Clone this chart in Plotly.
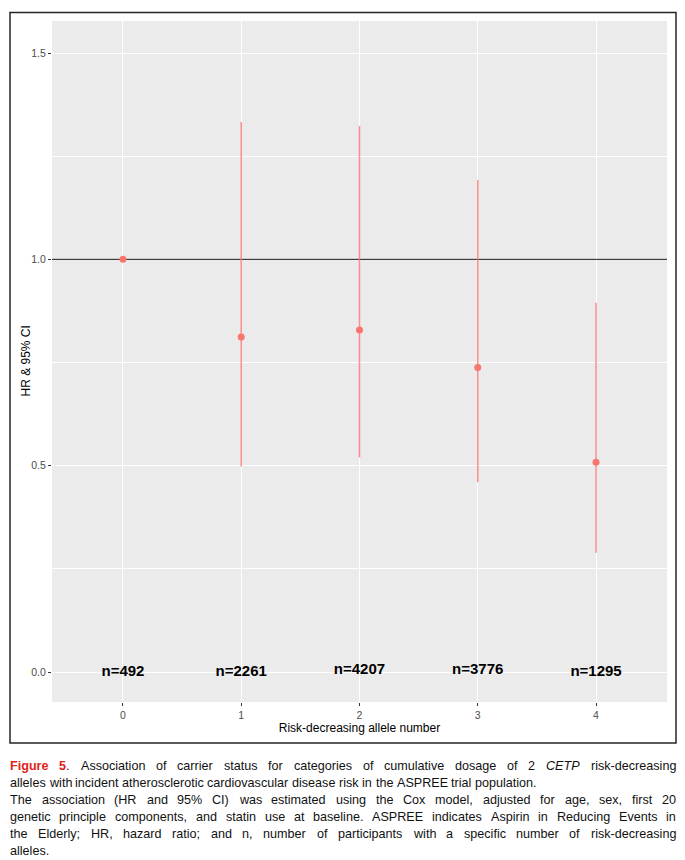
import plotly.graph_objects as go

# ---------------- data ----------------
allele_number = [0, 1, 2, 3, 4]
hr = [1.00, 0.812, 0.829, 0.738, 0.508]
ci_lower = [1.00, 0.498, 0.520, 0.460, 0.289]
ci_upper = [1.00, 1.333, 1.323, 1.192, 0.895]
n_labels = ["n=492", "n=2261", "n=4207", "n=3776", "n=1295"]
n_label_y = [0.0, 0.0, 0.004, 0.004, 0.0]
reference_hr = 1.0
x_range = [-0.6, 4.6]
y_range = [-0.0727, 1.5776]
x_tick_vals = [0, 1, 2, 3, 4]
x_tick_text = ["0", "1", "2", "3", "4"]
y_tick_vals = [0.0, 0.5, 1.0, 1.5]
y_tick_text = ["0.0", "0.5", "1.0", "1.5"]
y_minor_vals = [0.25, 0.75, 1.25]
x_title = "Risk-decreasing allele number"
y_title = "HR & 95% CI"

caption_lines = [
    "Figure 5. Association of carrier status for categories of cumulative dosage of 2 CETP risk-decreasing",
    "alleles with incident atherosclerotic cardiovascular disease risk in the ASPREE trial population.",
    "The association (HR and 95% CI) was estimated using the Cox model, adjusted for age, sex, first 20",
    "genetic principle components, and statin use at baseline. ASPREE indicates Aspirin in Reducing Events in",
    "the Elderly; HR, hazard ratio; and n, number of participants with a specific number of risk-decreasing",
    "alleles.",
]
caption_justified = [True, False, True, True, True, False]

# ---------------- layout geometry ----------------
W, H = 685, 860
ML, MR, MT, MB = 52, 18, 21, 158
PW, PH = W - ML - MR, H - MT - MB


def px(xpix):
    return (xpix - ML) / PW


def py(ypix):
    return (H - MB - ypix) / PH


FONT = "Liberation Sans, Arial, Helvetica, sans-serif"
POINT = "#F8766D"

# Arial / Liberation Sans advance widths (1/1000 em)
REG = {" ": 278, "%": 889, "&": 667, "(": 333, ")": 333, ",": 278, "-": 333, ".": 278, ";": 278, ":": 278,
       "A": 667, "B": 667, "C": 722, "D": 722, "E": 667, "F": 611, "G": 778, "H": 722, "I": 278, "J": 500,
       "K": 667, "L": 556, "M": 833, "N": 722, "O": 778, "P": 667, "Q": 778, "R": 722, "S": 667, "T": 611,
       "U": 722, "V": 667, "W": 944, "X": 667, "Y": 667, "Z": 611,
       "a": 556, "b": 556, "c": 500, "d": 556, "e": 556, "f": 278, "g": 556, "h": 556, "i": 222, "j": 222,
       "k": 500, "l": 222, "m": 833, "n": 556, "o": 556, "p": 556, "q": 556, "r": 333, "s": 500, "t": 278,
       "u": 556, "v": 500, "w": 722, "x": 500, "y": 500, "z": 500}
for d in "0123456789":
    REG[d] = 556
BOLD = {"F": 611, "i": 278, "g": 611, "u": 611, "r": 389, "e": 556, "5": 556, " ": 278}

CAP_SIZE = 12.6
RED = "#E2231A"


def run_width(text, bold=False):
    tab = BOLD if bold else REG
    return sum(tab.get(ch, 556) for ch in text) * CAP_SIZE / 1000.0


def render_word(li, word):
    """returns (html, width)"""
    if li == 0 and word == "Figure":
        return f"<b><span style='color:{RED}'>Figure</span></b>", run_width("Figure", True)
    if li == 0 and word == "5.":
        return (f"<b><span style='color:{RED}'>5</span></b>.",
                run_width("5", True) + run_width("."))
    if word == "CETP":
        return "<i>CETP</i>", run_width("CETP")
    return word, run_width(word)


fig = go.Figure()

# reference line at HR = 1 (drawn first so points sit on top)
fig.add_trace(go.Scatter(
    x=x_range, y=[reference_hr, reference_hr], mode="lines",
    line=dict(color="#1a1a1a", width=1), hoverinfo="skip", showlegend=False,
))

# CI bars + points
fig.add_trace(go.Scatter(
    x=allele_number, y=hr, mode="markers",
    marker=dict(color=POINT, size=7),
    error_y=dict(type="data", symmetric=False,
                 array=[u - h for u, h in zip(ci_upper, hr)],
                 arrayminus=[h - l for h, l in zip(hr, ci_lower)],
                 color="rgba(248,118,109,0.8)", thickness=1.5, width=0),
    hoverinfo="skip", showlegend=False,
))

# n labels
fig.add_trace(go.Scatter(
    x=allele_number, y=n_label_y, mode="text", text=n_labels,
    textposition="middle center",
    textfont=dict(family=FONT, size=15, color="black", weight="bold"),
    hoverinfo="skip", showlegend=False,
))

shapes = [
    dict(type="rect", xref="paper", yref="paper", x0=px(10), x1=px(676), y0=py(743), y1=py(12.5),
         line=dict(color="#262626", width=1.5), fillcolor="rgba(0,0,0,0)", layer="above"),
]

annotations = [
    dict(text=y_title, x=px(25), y=py(361.5), xref="paper", yref="paper", textangle=-90,
         xanchor="center", yanchor="middle", showarrow=False, borderpad=0, borderwidth=0,
         font=dict(family=FONT, size=12, color="black")),
]
line_y = [766, 783, 800, 817, 834, 851]
LEFT, RIGHT = 10, 676
for li, line in enumerate(caption_lines):
    words = line.split(" ")
    rendered = [render_word(li, w) for w in words]
    total = sum(r[1] for r in rendered)
    if caption_justified[li] and len(words) > 1:
        gap = (RIGHT - LEFT - total) / (len(words) - 1)
    else:
        gap = run_width(" ")
    xcur = LEFT
    for html, wdt in rendered:
        annotations.append(dict(
            text=html, x=px(xcur), y=py(line_y[li]), xref="paper", yref="paper",
            xanchor="left", yanchor="middle", showarrow=False, borderpad=0, borderwidth=0,
            font=dict(family=FONT, size=CAP_SIZE, color="#111111"),
        ))
        xcur += wdt + gap

fig.update_layout(
    width=W, height=H,
    margin=dict(l=ML, r=MR, t=MT, b=MB, pad=0),
    paper_bgcolor="white", plot_bgcolor="#EBEBEB",
    font=dict(family=FONT),
    showlegend=False,
    shapes=shapes,
    annotations=annotations,
    xaxis=dict(range=x_range, tickvals=x_tick_vals, ticktext=x_tick_text,
               showgrid=True, gridcolor="white", gridwidth=1.1, zeroline=False,
               ticks="outside", ticklen=3, tickcolor="#333333", tickwidth=1,
               tickfont=dict(family=FONT, size=10.5, color="#4D4D4D"),
               title=dict(text=x_title, font=dict(family=FONT, size=12, color="black"), standoff=2),
               showline=False, fixedrange=True),
    yaxis=dict(range=y_range, tickvals=y_tick_vals, ticktext=y_tick_text,
               showgrid=True, gridcolor="white", gridwidth=1.1, zeroline=False,
               minor=dict(tickvals=y_minor_vals, showgrid=True, gridcolor="white", gridwidth=0.5, ticks=""),
               ticks="outside", ticklen=3, tickcolor="#333333", tickwidth=1,
               tickfont=dict(family=FONT, size=10.5, color="#4D4D4D"),
               showline=False, fixedrange=True),
)

fig.write_html("out.html")
